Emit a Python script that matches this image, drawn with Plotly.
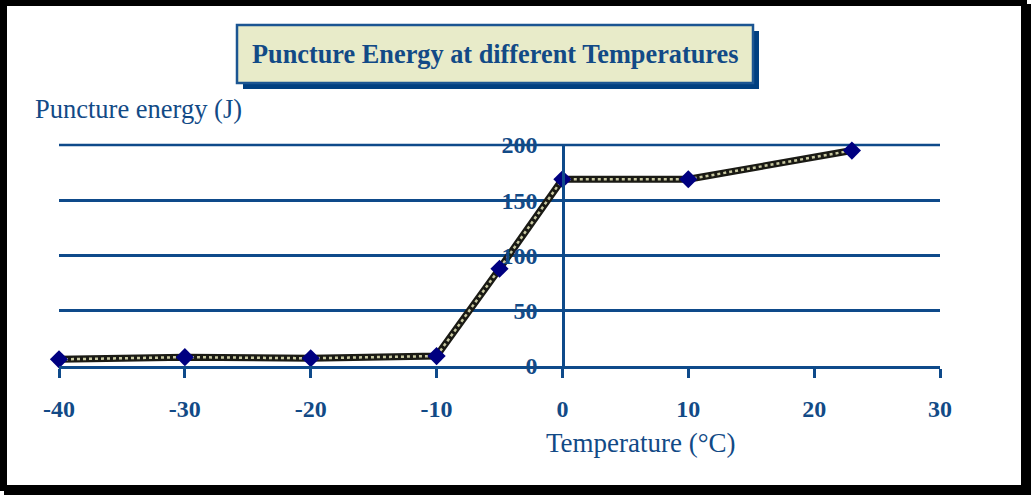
import plotly.graph_objects as go

temps = [-40, -30, -20, -10, -5, 0, 10, 23]
energy = [6, 8, 7, 9, 88, 169, 169, 195]
x_ticks = [-40, -30, -20, -10, 0, 10, 20, 30]
x_tick_text = ["-40", "-30", "-20", "-10", "0", "10", "20", "30"]
y_ticks = [0, 50, 100, 150, 200]

W, H = 1031, 495
L, R, T, B = 59, 940, 145, 366  # plot area in px

def px(x):
    return (x - L) / (R - L)

def py(y):
    return (B - y) / (B - T)

BLUE = "#0E4A8A"
TXT = "#124A86"
FONT = "Liberation Serif, Times New Roman, serif"

fig = go.Figure()
fig.add_trace(go.Scatter(x=temps, y=energy, mode="lines", cliponaxis=False,
                         line=dict(color="#1a1a14", width=7), hoverinfo="skip", showlegend=False))
fig.add_trace(go.Scatter(x=temps, y=energy, mode="lines", cliponaxis=False,
                         line=dict(color="#c8c8a0", width=2.5, dash="dot"), hoverinfo="skip", showlegend=False))
fig.add_trace(go.Scatter(x=temps, y=energy, mode="markers", cliponaxis=False,
                         marker=dict(symbol="diamond", size=14, color="#000080"), showlegend=False))

shapes = []
# outer frame: shadow + border
shapes.append(dict(type="rect", xref="paper", yref="paper",
                   x0=px(4), x1=px(1031), y0=py(495), y1=py(4),
                   fillcolor="black", line=dict(width=0), layer="below"))
shapes.append(dict(type="rect", xref="paper", yref="paper",
                   x0=px(0), x1=px(1027), y0=py(491), y1=py(0),
                   fillcolor="black", line=dict(width=0), layer="below"))
shapes.append(dict(type="rect", xref="paper", yref="paper",
                   x0=px(7), x1=px(1021), y0=py(485), y1=py(6),
                   fillcolor="white", line=dict(width=0), layer="below"))
# top gridline at 200 (top of plot area)
shapes.append(dict(type="line", xref="paper", yref="paper", x0=0, x1=1, y0=1, y1=1,
                   line=dict(color=BLUE, width=2.5), layer="below"))
# title box shadow and box
shapes.append(dict(type="rect", xref="paper", yref="paper",
                   x0=px(243), x1=px(759), y0=py(89), y1=py(31),
                   fillcolor="#003F80", line=dict(width=0)))
shapes.append(dict(type="rect", xref="paper", yref="paper",
                   x0=px(237), x1=px(753), y0=py(83), y1=py(25),
                   fillcolor="#E8EBC9", line=dict(color="#1B5592", width=2.5)))

annotations = [
    dict(text="<b>Puncture Energy at different Temperatures</b>", xref="paper", yref="paper",
         x=px(495), y=py(55), showarrow=False, xanchor="center", yanchor="middle",
         font=dict(family=FONT, size=26.3, color=TXT)),
    dict(text="Puncture energy (J)", xref="paper", yref="paper",
         x=px(33), y=py(109), showarrow=False, xanchor="left", yanchor="middle",
         font=dict(family=FONT, size=26.5, color=TXT)),
    dict(text="Temperature (°C)", xref="paper", yref="paper",
         x=px(641), y=py(443), showarrow=False, xanchor="center", yanchor="middle",
         font=dict(family=FONT, size=27, color=TXT)),
]

fig.update_layout(
    width=W, height=H,
    margin=dict(l=L, r=W - R, t=T, b=H - B, pad=0),
    paper_bgcolor="white", plot_bgcolor="rgba(0,0,0,0)",
    shapes=shapes, annotations=annotations,
    xaxis=dict(range=[-40, 30], tickvals=x_ticks, ticktext=x_tick_text, showgrid=False, zeroline=False,
               showline=True, linecolor=BLUE, linewidth=2.5,
               ticks="outside", ticklen=9, tickwidth=2.5, tickcolor=BLUE,
               ticklabelstandoff=10,
               tickfont=dict(family=FONT, size=24, color=TXT, weight="bold")),
    yaxis=dict(range=[0, 200], tickvals=y_ticks, showgrid=True, gridcolor=BLUE, gridwidth=2.5,
               zeroline=False, showline=True, linecolor=BLUE, linewidth=2.5,
               anchor="free", position=px(563), ticks="", ticklabelstandoff=20,
               tickfont=dict(family=FONT, size=24, color=TXT, weight="bold")),
)

fig.write_html("out.html", config={"displayModeBar": False},
               post_script="document.body.style.margin='0';document.body.style.overflow='hidden';")
